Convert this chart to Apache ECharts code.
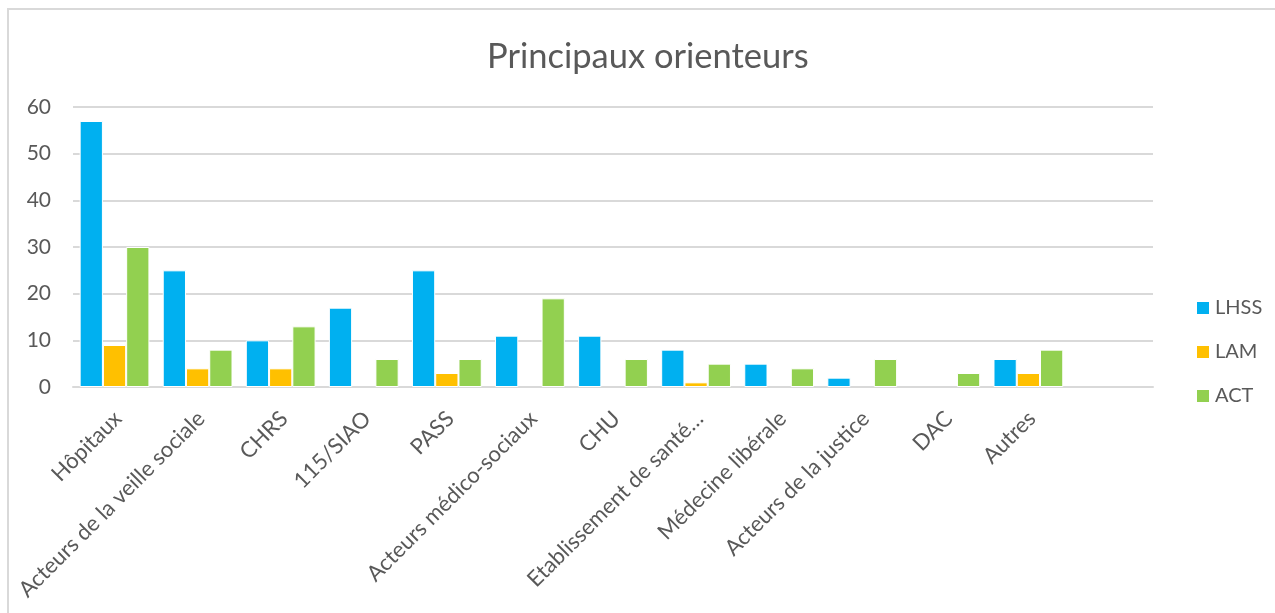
<!DOCTYPE html>
<html>
<head>
<meta charset="utf-8">
<script src="https://cdn.jsdelivr.net/npm/echarts@6/dist/echarts.min.js"></script>
<style>
  html, body { margin: 0; padding: 0; background: #fff; }
  #chart { width: 1275px; height: 613px; }
</style>
</head>
<body>
<div id="chart"></div>
<script>
// categories (the last one is an empty slot, as in the source sheet)
const categories = [
  'Hôpitaux', 'Acteurs de la veille sociale', 'CHRS', '115/SIAO', 'PASS',
  'Acteurs médico-sociaux', 'CHU', 'Etablissement de santé…', 'Médecine libérale',
  'Acteurs de la justice', 'DAC', 'Autres', ''
];
const lhss = [57, 25, 10, 17, 25, 11, 11, 8, 5, 2, null, 6, null];
const lam  = [9, 4, 4, null, 3, null, null, 1, null, null, null, 3, null];
const act  = [30, 8, 13, 6, 6, 19, 6, 5, 4, 6, 3, 8, null];

const textColor = '#595959';
const font = 'Lato';

const chart = echarts.init(document.getElementById('chart'));

const bar = (name, data, color) => ({
  name,
  type: 'bar',
  data,
  barGap: '0%',
  barCategoryGap: '16%',
  itemStyle: { color, borderColor: '#fff', borderWidth: 1 },
});

chart.setOption({
  animation: false,
  textStyle: { fontFamily: font },
  graphic: [{
    type: 'rect',
    shape: { x: 8, y: 9, width: 1320, height: 700 },
    style: { fill: 'none', stroke: '#d9d9d9', lineWidth: 2 },
    silent: true,
  }],
  title: {
    text: 'Principaux orienteurs',
    left: 482,
    top: 34,
    textStyle: { fontFamily: font, fontSize: 34.5, fontWeight: 'normal', color: textColor },
  },
  legend: {
    orient: 'vertical',
    left: 1190,
    top: 293,
    itemGap: 24,
    itemWidth: 14,
    itemHeight: 14,
    icon: 'rect',
    textStyle: { fontFamily: font, fontSize: 20, color: textColor },
  },
  grid: { left: 73, right: 122, top: 107, bottom: 226, containLabel: false },
  xAxis: {
    type: 'category',
    data: categories,
    axisLine: { lineStyle: { color: '#d9d9d9', width: 2 } },
    axisTick: { show: false },
    axisLabel: {
      rotate: 45,
      interval: 0,
      margin: 16,
      padding: [0, 6, 0, 0],
      verticalAlign: 'top',
      fontFamily: font,
      fontSize: 22,
      color: textColor,
    },
  },
  yAxis: {
    type: 'value',
    min: 0,
    max: 60,
    interval: 10,
    axisLine: { show: false },
    axisTick: { show: false },
    splitLine: { lineStyle: { color: '#d9d9d9', width: 2 } },
    axisLabel: { margin: 22, fontFamily: font, fontSize: 21, color: textColor },
  },
  series: [
    bar('LHSS', lhss, '#00b0f0'),
    bar('LAM', lam, '#ffc000'),
    bar('ACT', act, '#92d050'),
  ],
});
</script>
</body>
</html>
